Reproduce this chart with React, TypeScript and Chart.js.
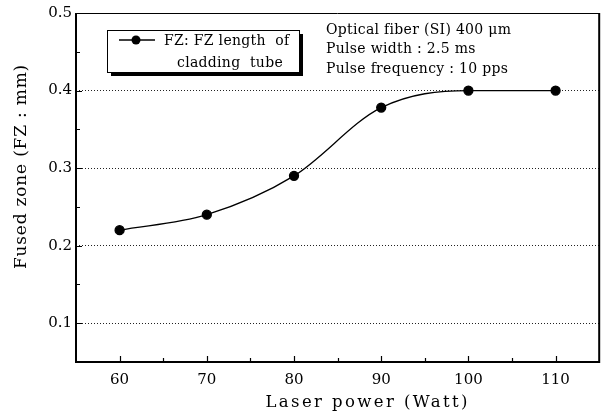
import React, { useEffect, useRef } from "react";
import { Chart, registerables } from "chart.js";

Chart.register(...registerables);

const laserPower = [60, 70, 80, 90, 100, 110];
const fusedZone = [0.22, 0.24, 0.29, 0.378, 0.4, 0.4];
const xMajorTicks = [60, 70, 80, 90, 100, 110];
const xMinorTicks = [65, 75, 85, 95, 105];
const yMajorTicks = [0.1, 0.2, 0.3, 0.4, 0.5];
const yMinorTicks = [0.15, 0.25, 0.35, 0.45];
const legendLines = ["FZ: FZ length  of", "cladding  tube"];
const noteLines = ["Optical fiber (SI) 400 \u03bcm", "Pulse width : 2.5 ms", "Pulse frequency : 10 pps"];
const xTitle = "Laser power (Watt)";
const yTitle = "Fused zone (FZ : mm)";

const FONT = "'DejaVu Serif', 'Liberation Serif', serif";

const decorPlugin = {
  id: "decor",
  afterDraw(chart: any) {
    const { ctx, chartArea: a, scales } = chart;
    const xs = scales.x;
    const ys = scales.y;
    ctx.save();
    ctx.strokeStyle = "#000";
    ctx.fillStyle = "#000";
    // inward ticks
    ctx.lineWidth = 1.2;
    ctx.beginPath();
    xMajorTicks.forEach((v) => {
      const px = Math.round(xs.getPixelForValue(v)) + 0.5;
      ctx.moveTo(px, a.bottom);
      ctx.lineTo(px, a.bottom - 6);
    });
    xMinorTicks.forEach((v) => {
      const px = Math.round(xs.getPixelForValue(v)) + 0.5;
      ctx.moveTo(px, a.bottom);
      ctx.lineTo(px, a.bottom - 4);
    });
    yMajorTicks.forEach((v) => {
      const py = Math.round(ys.getPixelForValue(v)) + 0.5;
      ctx.moveTo(a.left, py);
      ctx.lineTo(a.left + 6, py);
    });
    yMinorTicks.forEach((v) => {
      const py = Math.round(ys.getPixelForValue(v)) + 0.5;
      ctx.moveTo(a.left, py);
      ctx.lineTo(a.left + 4, py);
    });
    ctx.stroke();

    // frame
    ctx.lineWidth = 2;
    ctx.beginPath();
    ctx.moveTo(a.left, a.top);
    ctx.lineTo(a.left, a.bottom);
    ctx.lineTo(a.right, a.bottom);
    ctx.lineTo(a.right, a.top);
    ctx.stroke();
    ctx.lineWidth = 1;
    ctx.beginPath();
    ctx.moveTo(a.left, a.top + 0.5);
    ctx.lineTo(a.right, a.top + 0.5);
    ctx.stroke();

    // legend box with shadow
    const bx = a.left + 31;
    const by = a.top + 17;
    const bw = 192;
    const bh = 42;
    ctx.fillStyle = "#000";
    ctx.fillRect(bx + 4, by + 4, bw, bh);
    ctx.fillStyle = "#fff";
    ctx.fillRect(bx, by, bw, bh);
    ctx.lineWidth = 1;
    ctx.strokeRect(bx + 0.5, by + 0.5, bw, bh);
    const ly = by + 10;
    ctx.lineWidth = 1.3;
    ctx.beginPath();
    ctx.moveTo(bx + 12, ly);
    ctx.lineTo(bx + 48, ly);
    ctx.stroke();
    ctx.fillStyle = "#000";
    ctx.beginPath();
    ctx.arc(bx + 29, ly, 4.5, 0, Math.PI * 2);
    ctx.fill();
    (ctx as any).letterSpacing = "0.3px";
    ctx.font = "14px " + FONT;
    ctx.textBaseline = "middle";
    ctx.textAlign = "left";
    ctx.fillText(legendLines[0], bx + 57, ly + 1);
    ctx.fillText(legendLines[1], bx + 70, ly + 23);

    // notes
    noteLines.forEach((t, i) => {
      ctx.fillText(t, a.left + 250, a.top + 17 + i * 19.5);
    });

    // axis titles
    ctx.font = "16.5px " + FONT;
    (ctx as any).letterSpacing = "2.4px";
    ctx.textAlign = "center";
    ctx.textBaseline = "alphabetic";
    ctx.fillText(xTitle, (a.left + a.right) / 2 + 30, chart.height - 12);

    (ctx as any).letterSpacing = "0.8px";
    ctx.font = "17px " + FONT;
    ctx.translate(22, (a.top + a.bottom) / 2 - 21);
    ctx.rotate(-Math.PI / 2);
    ctx.textBaseline = "middle";
    ctx.fillText(yTitle, 0, 0);
    ctx.restore();
  },
};

export default function App() {
  const canvasRef = useRef<HTMLCanvasElement | null>(null);

  useEffect(() => {
    document.body.style.margin = "0";
    const canvas = canvasRef.current;
    if (!canvas) return;
    const chart = new Chart(canvas, {
      type: "line",
      data: {
        datasets: [
          {
            label: "FZ",
            data: laserPower.map((x, i) => ({ x, y: fusedZone[i] })),
            borderColor: "#000",
            backgroundColor: "#000",
            borderWidth: 1.3,
            pointRadius: 4.5,
            pointBackgroundColor: "#000",
            pointBorderColor: "#000",
            cubicInterpolationMode: "monotone",
            fill: false,
          },
        ],
      },
      options: {
        animation: false,
        responsive: true,
        maintainAspectRatio: false,
        layout: { padding: { top: 11, right: 4, left: 0, bottom: 0 } },
        plugins: {
          legend: { display: false },
          tooltip: { enabled: false },
        },
        scales: {
          x: {
            type: "linear",
            min: 55,
            max: 115,
            afterBuildTicks: (scale: any) => {
              scale.ticks = xMajorTicks.map((v) => ({ value: v }));
            },
            afterFit: (scale: any) => {
              scale.height = 57;
            },
            ticks: {
              color: "#000",
              font: { family: FONT, size: 15 },
              padding: 9,
              callback: (v: any) => String(v),
            },
            grid: { display: false, drawTicks: false },
            border: { display: false },
            title: { display: false },
          },
          y: {
            type: "linear",
            min: 0.05,
            max: 0.5,
            afterBuildTicks: (scale: any) => {
              scale.ticks = yMajorTicks.map((v) => ({ value: v }));
            },
            afterFit: (scale: any) => {
              scale.width = 76;
            },
            ticks: {
              color: "#000",
              font: { family: FONT, size: 15 },
              padding: 4,
              callback: (v: any) => Number(v).toFixed(1),
            },
            grid: {
              drawTicks: false,
              lineWidth: 1,
              color: (c: any) => (c.tick && c.tick.value >= 0.5 ? "rgba(0,0,0,0)" : "#222"),
            },
            border: { display: false, dash: [1, 2] },
            title: { display: false },
          },
        },
      },
      plugins: [decorPlugin],
    } as any);
    return () => chart.destroy();
  }, []);

  return (
    <div style={{ position: "relative", width: 605, height: 419 }}>
      <canvas ref={canvasRef} />
    </div>
  );
}
